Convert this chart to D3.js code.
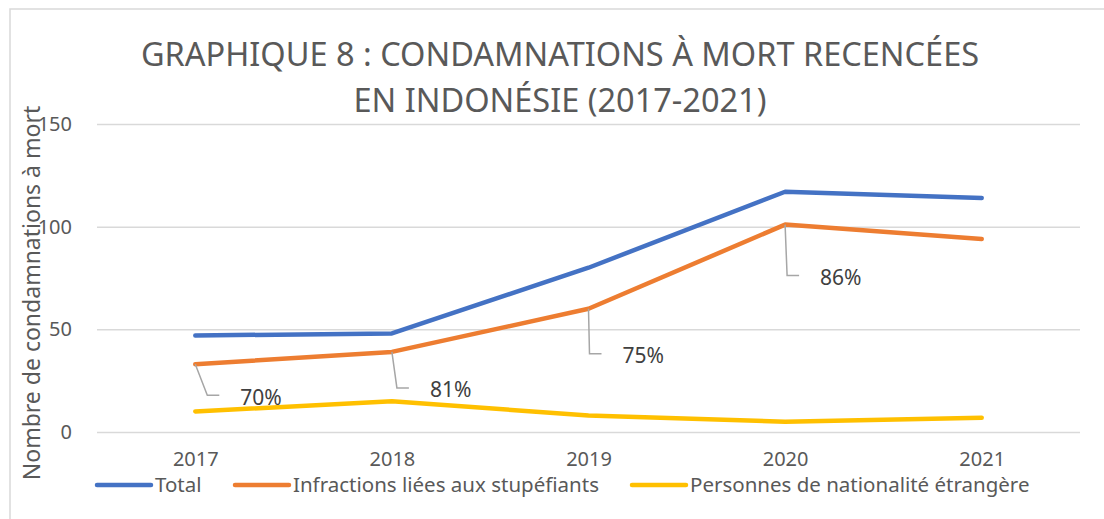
<!DOCTYPE html>
<html>
<head>
<meta charset="utf-8">
<script src="https://cdn.jsdelivr.net/npm/d3@7"></script>
<style>
  body { margin: 0; background: #fff; }
  text { font-family: "Noto Sans", "Open Sans", sans-serif; fill: #595959; }
</style>
</head>
<body>
<script>
// data
var years = ["2017", "2018", "2019", "2020", "2021"];
var total = [47, 48, 80, 117, 114];
var drugs = [33, 39, 60, 101, 94];
var foreigners = [10, 15, 8, 5, 7];
var pctLabels = ["70%", "81%", "75%", "86%", null];
var yTicks = [0, 50, 100, 150];

var seriesNames = ["Total", "Infractions liées aux stupéfiants", "Personnes de nationalité étrangère"];
var colors = ["#4472C4", "#ED7D31", "#FFC000"];

var width = 1104, height = 519;

var svg = d3.select("body").append("svg")
    .attr("width", width)
    .attr("height", height);

// chart frame (only top + left show)
svg.append("rect")
    .attr("x", 10).attr("y", 9)
    .attr("width", width).attr("height", height)
    .attr("fill", "none")
    .attr("stroke", "#d9d9d9")
    .attr("stroke-width", 1.5);

// title
var title = svg.append("text")
    .attr("text-anchor", "middle")
    .style("font-size", "32.5px");
title.append("tspan").attr("x", 560).attr("y", 66)
    .text("GRAPHIQUE 8 : CONDAMNATIONS À MORT RECENCÉES");
title.append("tspan").attr("x", 560).attr("y", 112)
    .text("EN INDONÉSIE (2017-2021)");

var x = d3.scalePoint().domain(years).range([97, 1080]).padding(0.5);
var y = d3.scaleLinear().domain([0, 150]).range([432, 124]);

// gridlines + y labels
var yAxis = svg.append("g")
    .attr("transform", "translate(97,0)")
    .call(d3.axisLeft(y).tickValues(yTicks).tickSize(-(1080 - 97)).tickPadding(25));
yAxis.select(".domain").remove();
yAxis.selectAll(".tick line").attr("stroke", "#d9d9d9").attr("stroke-width", 1.5);
yAxis.selectAll(".tick text").style("font-size", "20px").style("font-family", null).attr("fill", null);

// x labels
var xAxis = svg.append("g")
    .attr("transform", "translate(0,432)")
    .call(d3.axisBottom(x).tickSize(0).tickPadding(20));
xAxis.select(".domain").remove();
xAxis.selectAll(".tick text").style("font-size", "20px").style("font-family", null).attr("fill", null);

// y axis title
svg.append("text")
    .attr("transform", "translate(40,293) rotate(-90)")
    .attr("text-anchor", "middle")
    .style("font-size", "23px")
    .text("Nombre de condamnations à mort");

// lines
var allSeries = [total, drugs, foreigners];
var line = d3.line()
    .x(function(d, i) { return x(years[i]); })
    .y(function(d) { return y(d); });

svg.selectAll(".series")
    .data(allSeries)
    .enter().append("path")
    .attr("class", "series")
    .attr("d", line)
    .attr("fill", "none")
    .attr("stroke", function(d, i) { return colors[i]; })
    .attr("stroke-width", 4.5)
    .attr("stroke-linecap", "round")
    .attr("stroke-linejoin", "round");

// percentage labels with leader lines (offsets of the leader corner)
var leaderOffsets = [[12, 31], [5, 36], [1, 45], [2, 51]];
pctLabels.forEach(function(lbl, i) {
  if (!lbl) return;
  var px = x(years[i]), py = y(drugs[i]);
  var cx = px + leaderOffsets[i][0], cy = py + leaderOffsets[i][1];
  svg.append("path")
      .attr("d", "M" + px + "," + py + "L" + cx + "," + cy + "L" + (cx + 12) + "," + cy)
      .attr("fill", "none")
      .attr("stroke", "#a6a6a6")
      .attr("stroke-width", 1.5);
  svg.append("text")
      .attr("x", cx + 33)
      .attr("y", cy + 2)
      .attr("dy", "0.35em")
      .style("font-size", "21px")
      .style("fill", "#404040")
      .text(lbl);
});

// legend
var legendX = [97, 235, 632];
var lg = svg.selectAll(".legend")
    .data(seriesNames)
    .enter().append("g")
    .attr("class", "legend")
    .attr("transform", function(d, i) { return "translate(" + legendX[i] + ",485)"; });
lg.append("line")
    .attr("x1", 0).attr("x2", 54)
    .attr("stroke", function(d, i) { return colors[i]; })
    .attr("stroke-width", 4.5)
    .attr("stroke-linecap", "round");
lg.append("text")
    .attr("x", 58)
    .attr("dy", "0.35em")
    .style("font-size", "20.5px")
    .text(function(d) { return d; });
</script>
</body>
</html>
